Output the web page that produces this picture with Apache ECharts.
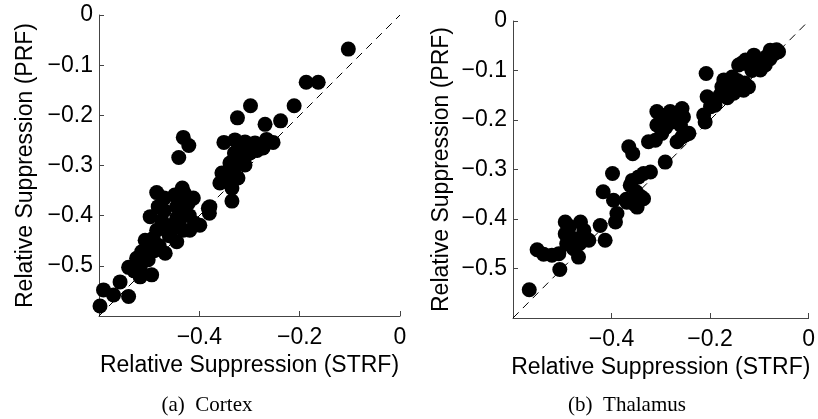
<!DOCTYPE html>
<html>
<head>
<meta charset="utf-8">
<script src="https://cdn.jsdelivr.net/npm/echarts@6/dist/echarts.min.js"></script>
<style>html,body{margin:0;padding:0;background:#fff}#c{width:818px;height:419px}</style>
</head>
<body>
<div id="c"></div>
<script>
// Cortex: [STRF, PRF]
const cortexPoints = [
  [-0.103,-0.068],[-0.187,-0.134],[-0.163,-0.134],[-0.211,-0.181],[-0.298,-0.181],
  [-0.324,-0.205],[-0.238,-0.211],[-0.269,-0.218],[-0.432,-0.244],[-0.421,-0.260],
  [-0.441,-0.284],[-0.351,-0.254],[-0.253,-0.254],[-0.266,-0.248],
  [-0.329,-0.249],[-0.309,-0.253],[-0.289,-0.255],[-0.273,-0.265],[-0.319,-0.269],
  [-0.299,-0.275],[-0.323,-0.285],[-0.339,-0.295],[-0.309,-0.299],[-0.333,-0.309],
  [-0.355,-0.315],[-0.323,-0.325],[-0.359,-0.335],[-0.335,-0.345],[-0.335,-0.371],
  [-0.379,-0.382],[-0.380,-0.395],
  [-0.315,-0.260],[-0.300,-0.265],[-0.285,-0.270],[-0.330,-0.275],[-0.310,-0.285],
  [-0.295,-0.260],[-0.325,-0.300],[-0.345,-0.330],
  [-0.485,-0.354],[-0.434,-0.345],[-0.449,-0.359],[-0.412,-0.365],[-0.428,-0.369],
  [-0.482,-0.382],[-0.445,-0.382],[-0.422,-0.375],[-0.382,-0.385],[-0.498,-0.402],
  [-0.475,-0.409],[-0.445,-0.405],[-0.409,-0.415],[-0.399,-0.419],[-0.485,-0.429],
  [-0.455,-0.429],[-0.432,-0.429],[-0.419,-0.429],[-0.508,-0.449],[-0.492,-0.445],
  [-0.445,-0.452],[-0.515,-0.472],[-0.468,-0.475],[-0.525,-0.485],[-0.502,-0.488],
  [-0.541,-0.503],[-0.518,-0.505],[-0.495,-0.518],[-0.518,-0.522],[-0.558,-0.532],
  [-0.591,-0.548],[-0.571,-0.558],[-0.541,-0.561],[-0.598,-0.580],
  [-0.470,-0.390],[-0.460,-0.420],[-0.440,-0.410],[-0.430,-0.390],[-0.460,-0.440],
  [-0.480,-0.460],[-0.500,-0.460],[-0.490,-0.470],[-0.510,-0.490],[-0.530,-0.510],
  [-0.440,-0.370],[-0.430,-0.355],[-0.420,-0.400],[-0.470,-0.365]
];
// Thalamus: [STRF, PRF]
const thalamusPoints = [
  [-0.567,-0.543],[-0.505,-0.502],[-0.551,-0.462],[-0.538,-0.471],[-0.521,-0.473],
  [-0.507,-0.470],[-0.494,-0.406],[-0.494,-0.430],[-0.491,-0.450],[-0.477,-0.460],
  [-0.467,-0.477],[-0.463,-0.406],[-0.456,-0.423],[-0.446,-0.443],[-0.474,-0.440],
  [-0.423,-0.413],[-0.413,-0.443],[-0.417,-0.345],[-0.398,-0.308],[-0.396,-0.362],
  [-0.389,-0.389],[-0.392,-0.406],[-0.369,-0.366],[-0.355,-0.369],[-0.348,-0.376],
  [-0.335,-0.359],[-0.362,-0.332],[-0.358,-0.322],[-0.345,-0.315],[-0.335,-0.308],
  [-0.321,-0.305],[-0.365,-0.254],[-0.357,-0.268],[-0.325,-0.244],[-0.311,-0.241],
  [-0.291,-0.285],[-0.308,-0.183],[-0.308,-0.210],[-0.298,-0.227],[-0.281,-0.183],
  [-0.277,-0.204],[-0.257,-0.177],[-0.254,-0.194],[-0.267,-0.244],[-0.257,-0.234],
  [-0.243,-0.227],[-0.213,-0.190],[-0.210,-0.204],[-0.206,-0.153],[-0.190,-0.170],
  [-0.199,-0.173],[-0.208,-0.106],[-0.176,-0.133],[-0.172,-0.119],[-0.162,-0.126],
  [-0.169,-0.146],[-0.155,-0.113],[-0.152,-0.146],[-0.142,-0.136],[-0.132,-0.140],
  [-0.122,-0.133],[-0.142,-0.089],[-0.128,-0.079],[-0.111,-0.069],[-0.101,-0.079],
  [-0.088,-0.089],[-0.078,-0.059],[-0.068,-0.065],[-0.061,-0.062],[-0.098,-0.099],
  [-0.108,-0.089],[-0.085,-0.072],[-0.118,-0.092],[-0.078,-0.076],
  [-0.160,-0.140],[-0.145,-0.120],[-0.130,-0.125],[-0.115,-0.100],[-0.100,-0.090],
  [-0.090,-0.080],[-0.075,-0.068],[-0.065,-0.058],[-0.135,-0.085],[-0.120,-0.080],
  [-0.180,-0.150],[-0.165,-0.155],[-0.300,-0.190],[-0.290,-0.215],[-0.280,-0.195],
  [-0.260,-0.210],[-0.250,-0.230],[-0.485,-0.415],[-0.480,-0.440],[-0.465,-0.450],
  [-0.455,-0.435],[-0.350,-0.345],[-0.340,-0.355],[-0.370,-0.360]
];
const identityLine = [[-0.6,-0.6],[0,0]];
const xTickLabels = {'-0.4':'\u22120.4','-0.2':'\u22120.2','0':'0'};
const yTickLabels = {'0':'0','-0.1':'\u22120.1','-0.2':'\u22120.2','-0.3':'\u22120.3','-0.4':'\u22120.4','-0.5':'\u22120.5'};
const xTitle = 'Relative Suppression (STRF)';
const yTitle = 'Relative Suppression (PRF)';
const captions = ['(a)  Cortex','(b)  Thalamus'];

const font = 'Liberation Sans, Arial, sans-serif';
function fmtX(v){ const k = String(Math.round(v*10)/10); return xTickLabels[k] || ''; }
function fmtY(v){ const k = String(Math.round(v*10)/10); return yTickLabels[k] || ''; }
function xAxis(i, gap){
  return {type:'value', gridIndex:i, min:-0.6, max:0, interval:0.2,
    name:xTitle, nameLocation:'middle', nameGap:gap,
    nameTextStyle:{fontFamily:font, fontSize:23, color:'#000'},
    axisLine:{show:true, onZero:false, lineStyle:{color:'#444', width:1}},
    axisTick:{show:true, inside:true, length:5, lineStyle:{color:'#444'}},
    axisLabel:{formatter:fmtX, fontFamily:font, fontSize:23, color:'#000', margin:10},
    splitLine:{show:false}};
}
function yAxis(i, gap){
  return {type:'value', gridIndex:i, min:-0.6, max:0, interval:0.1,
    name:yTitle, nameLocation:'middle', nameGap:gap, nameRotate:90,
    nameTextStyle:{fontFamily:font, fontSize:23, color:'#000'},
    axisLine:{show:true, onZero:false, lineStyle:{color:'#444', width:1}},
    axisTick:{show:true, inside:true, length:5, lineStyle:{color:'#444'}},
    axisLabel:{formatter:fmtY, fontFamily:font, fontSize:23, color:'#000', margin:6},
    splitLine:{show:false}};
}
function lineSeries(i){
  return {type:'line', xAxisIndex:i, yAxisIndex:i, data:identityLine, symbol:'none',
    lineStyle:{color:'#000', width:1, type:[8,6]}, silent:true, z:1};
}
function scatter(i, d){
  return {type:'scatter', xAxisIndex:i, yAxisIndex:i, data:d, symbolSize:15,
    itemStyle:{color:'#000', opacity:1}, z:2};
}
const chart = echarts.init(document.getElementById('c'), null, {renderer:'canvas'});
chart.setOption({
  animation:false,
  backgroundColor:'#fff',
  grid:[{left:99, top:15, width:301, height:301},{left:513, top:21, width:296, height:297}],
  xAxis:[xAxis(0,37), xAxis(1,35)],
  yAxis:[yAxis(0,62), yAxis(1,60)],
  series:[lineSeries(0), scatter(0, cortexPoints), lineSeries(1), scatter(1, thalamusPoints)],
  graphic:[
    {type:'text', x:207, y:405, style:{text:captions[0], font:'21px "Liberation Serif", serif', fill:'#000', align:'center', verticalAlign:'middle'}},
    {type:'text', x:627, y:405, style:{text:captions[1], font:'21px "Liberation Serif", serif', fill:'#000', align:'center', verticalAlign:'middle'}}
  ]
});
</script>
</body>
</html>
